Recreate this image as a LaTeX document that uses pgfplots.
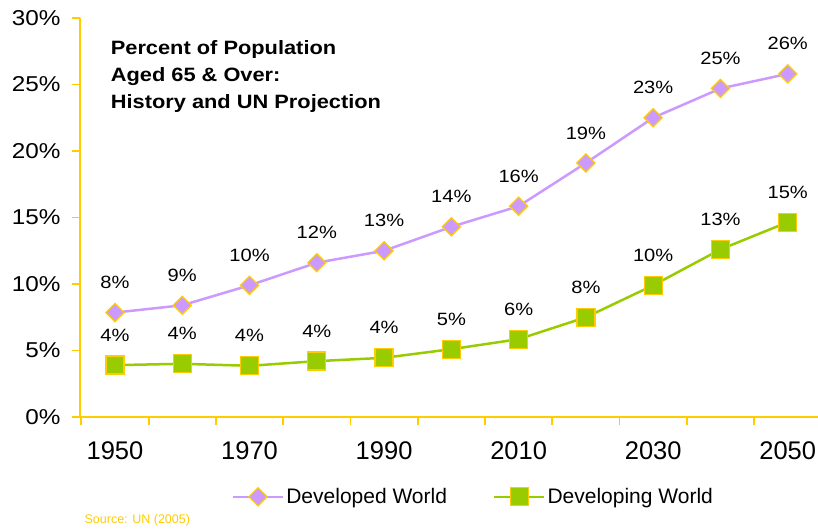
\documentclass[border=0pt]{standalone}
\usepackage{pgfplots}
\pgfplotsset{compat=1.18}
\usepackage{fontspec}
\setmainfont{Liberation Sans}
\newfontfamily\wide[FakeStretch=1.13]{Liberation Sans}
\definecolor{gold}{HTML}{FFCC00}
\definecolor{lav}{HTML}{CC99FF}
\definecolor{grn}{HTML}{99CC00}
\begin{document}
\begin{tikzpicture}
\path[use as bounding box] (-80pt,-112pt) rectangle (738pt,417pt);
\begin{axis}[
  at={(0,0)}, anchor=south west,
  scale only axis, width=738pt, height=399pt,
  xmin=1944.8, xmax=2054.5, ymin=0, ymax=30,
  axis x line*=bottom, axis y line*=left,
  axis line style={draw=gold, line width=2pt},
  tick style={draw=gold, line width=1.8pt},
  tick align=outside, major tick length=8pt,
  ytick={0,5,...,30},
  yticklabels={0\%,5\%,10\%,15\%,20\%,25\%,30\%},
  yticklabel style={font=\wide\fontsize{21.5}{24}\selectfont, xshift=-8pt},
  xtick={1945,1955,...,2045}, xticklabels={},
  extra x ticks={1950,1970,...,2050},
  extra x tick labels={1950,1970,1990,2010,2030,2050},
  extra x tick style={major tick length=0pt, tick style={draw=none}},
  xticklabel style={font=\fontsize{25.5}{28}\selectfont, yshift=-21pt},
  clip=false,
  point meta=explicit symbolic,
  nodes near coords={\pgfplotspointmeta\%},
  every node near coord/.append style={font=\wide\fontsize{17.8}{20}\selectfont, anchor=center, yshift=30pt, text=black},
  legend style={at={(0.533,-0.2)}, anchor=center, draw=none, fill=none,
    font=\fontsize{21}{24}\selectfont, legend columns=2,
    /tikz/every even column/.append style={column sep=44pt}},
  legend image code/.code={
    \draw[#1, mark repeat=2, mark phase=2] plot coordinates {(0pt,0pt) (25pt,0pt) (50pt,0pt)};},
]
\addplot[color=lav, line width=2.5pt, mark=square*, mark size=6.4pt,
  mark options={rotate=45, fill=lav, draw=gold, line width=1.3pt}]
  table[x=x, y=y, meta=l] {
x y l
1950 7.85 8
1960 8.4 9
1970 9.9 10
1980 11.6 12
1990 12.5 13
2000 14.3 14
2010 15.85 16
2020 19.1 19
2030 22.5 23
2040 24.7 25
2050 25.8 26
};
\addlegendentry{Developed World}
\addplot[color=grn, line width=2.5pt, mark=square*, mark size=9pt,
  mark options={fill=grn, draw=gold, line width=1.3pt}]
  table[x=x, y=y, meta=l] {
x y l
1950 3.9 4
1960 4.0 4
1970 3.85 4
1980 4.2 4
1990 4.45 4
2000 5.1 5
2010 5.85 6
2020 7.5 8
2030 9.9 10
2040 12.6 13
2050 14.65 15
};
\addlegendentry{Developing World}
\node[anchor=north west, align=left, font=\wide\bfseries\fontsize{19.3}{27}\selectfont]
  at (rel axis cs:0.037,0.952) {Percent of Population\\Aged 65 \& Over:\\History and UN Projection};
\node[anchor=west, text=gold, font=\fontsize{12.5}{14}\selectfont, inner sep=0pt]
  at (rel axis cs:0.006,-0.26) {Source: UN (2005)};
\end{axis}
\end{tikzpicture}
\end{document}
